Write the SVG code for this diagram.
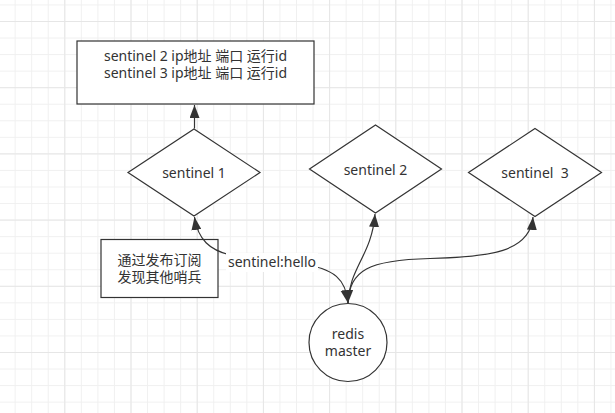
<svg xmlns="http://www.w3.org/2000/svg" width="615" height="413" viewBox="0 0 615 413">
<defs>
<pattern id="minor" x="14.65" y="4.45" width="16.55" height="16.55" patternUnits="userSpaceOnUse">
<path d="M0.5,0 V16.55 M0,0.5 H16.55" fill="none" stroke="#f0f0f0" stroke-width="1"/>
</pattern>
<pattern id="major" x="64.3" y="21" width="66.2" height="66.2" patternUnits="userSpaceOnUse">
<path d="M0.5,0 V66.2 M0,0.5 H66.2" fill="none" stroke="#e6e6e6" stroke-width="1"/>
</pattern>
<marker id="arr" viewBox="0 0 13 10" refX="13" refY="5" markerWidth="13" markerHeight="10" markerUnits="userSpaceOnUse" orient="auto-start-reverse">
<path d="M0,0 L13,5 L0,10 Z" fill="#333"/>
</marker>
<marker id="arrBig" viewBox="0 0 13 13" refX="13" refY="6.5" markerWidth="13" markerHeight="13" markerUnits="userSpaceOnUse" orient="auto">
<path d="M0,0 L13,6.5 L0,13 Z" fill="#333"/>
</marker>
</defs>
<style>
.shape{fill:#fff;stroke:#333;stroke-width:1.2}
.t{font-family:"Noto Sans","Noto Sans CJK SC",sans-serif;font-size:14px;fill:#333;text-anchor:middle}
.edge{fill:none;stroke:#333;stroke-width:1.2}
</style>
<rect width="615" height="413" fill="#fff"/>
<rect width="615" height="413" fill="url(#minor)"/>
<rect width="615" height="413" fill="url(#major)"/>

<g id="info">
<rect class="shape" x="77" y="41" width="237" height="63"/>
<text class="t" x="195.5" y="61"><tspan x="195.5" y="61">sentinel 2 ip地址 端口 运行id</tspan><tspan x="195.5" y="78">sentinel 3 ip地址 端口 运行id</tspan></text>
</g>

<g id="sentinel1">
<path class="shape" d="M194,129 L260,172.5 L194,216 L128,172.5 Z"/>
<text class="t" x="194" y="177.5">sentinel 1</text>
</g>

<g id="sentinel2">
<path class="shape" d="M375.5,125 L441.5,169 L375.5,213 L309.5,169 Z"/>
<text class="t" x="375.5" y="175">sentinel 2</text>
</g>

<g id="sentinel3">
<path class="shape" d="M535,128.5 L601.5,172.5 L535,216.5 L468.5,172.5 Z"/>
<text class="t" x="535" y="178" xml:space="preserve">sentinel  3</text>
</g>

<g id="note">
<rect class="shape" x="101" y="239.5" width="117" height="58"/>
<text class="t" x="159.5" y="265"><tspan x="159.5" y="265">通过发布订阅</tspan><tspan x="159.5" y="282">发现其他哨兵</tspan></text>
</g>

<g id="master">
<circle class="shape" cx="348" cy="342.5" r="39"/>
<text class="t" x="348" y="338.5"><tspan x="348" y="338.5">redis</tspan><tspan x="348" y="356">master</tspan></text>
</g>

<g id="connectors">
<path class="edge" d="M194.5,128.5 V105" marker-end="url(#arr)"/>
<path class="edge" d="M348,303 C349,268 372,255 375,214" marker-end="url(#arr)"/>
<path class="edge" d="M348,303 C350,270 368,260 430,258.5 C490,257 530,252 533,217" marker-end="url(#arr)"/>
<path class="edge" d="M194.5,217 C198,240 210,250 230,255 L300,264 C335,268 346,280 348,303" marker-start="url(#arr)" marker-end="url(#arrBig)"/>
<rect x="226" y="253" width="92" height="19" fill="#fff"/>
<text class="t" x="272" y="267">sentinel:hello</text>
</g>
</svg>
